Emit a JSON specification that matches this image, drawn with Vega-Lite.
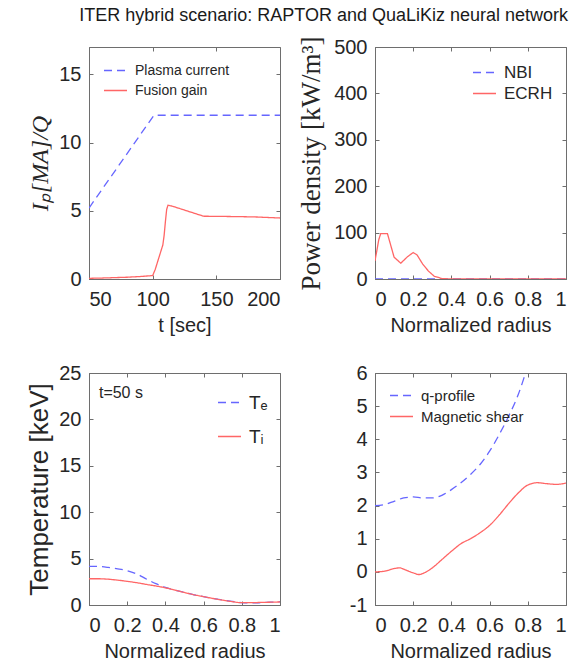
{
  "$schema": "https://vega.github.io/schema/vega-lite/v6.json",
  "padding": {"left": 26, "top": 7, "right": 5, "bottom": 5},
  "title": {"text": "ITER hybrid scenario: RAPTOR and QuaLiKiz neural network", "font": "Liberation Sans", "fontSize": 18, "fontWeight": "normal", "color": "#1a1a1a", "anchor": "middle", "offset": 10, "dx": 27},
  "datasets": {
    "current": [
      {"t": 50, "v": 5.2, "series": "Plasma current"},
      {"t": 101, "v": 12, "series": "Plasma current"},
      {"t": 200, "v": 12, "series": "Plasma current"},
      {"t": 50, "v": 0.05, "series": "Fusion gain"},
      {"t": 60, "v": 0.07, "series": "Fusion gain"},
      {"t": 70, "v": 0.1, "series": "Fusion gain"},
      {"t": 80, "v": 0.13, "series": "Fusion gain"},
      {"t": 90, "v": 0.18, "series": "Fusion gain"},
      {"t": 100, "v": 0.25, "series": "Fusion gain"},
      {"t": 102, "v": 0.7, "series": "Fusion gain"},
      {"t": 104, "v": 1.3, "series": "Fusion gain"},
      {"t": 106, "v": 1.9, "series": "Fusion gain"},
      {"t": 108, "v": 2.5, "series": "Fusion gain"},
      {"t": 109, "v": 3.2, "series": "Fusion gain"},
      {"t": 110, "v": 4.2, "series": "Fusion gain"},
      {"t": 111, "v": 5.1, "series": "Fusion gain"},
      {"t": 112, "v": 5.4, "series": "Fusion gain"},
      {"t": 115, "v": 5.35, "series": "Fusion gain"},
      {"t": 120, "v": 5.2, "series": "Fusion gain"},
      {"t": 130, "v": 4.9, "series": "Fusion gain"},
      {"t": 140, "v": 4.6, "series": "Fusion gain"},
      {"t": 160, "v": 4.58, "series": "Fusion gain"},
      {"t": 180, "v": 4.55, "series": "Fusion gain"},
      {"t": 200, "v": 4.47, "series": "Fusion gain"}
    ],
    "power": [
      {"r": 0, "p": 0, "series": "NBI"},
      {"r": 0.5, "p": 0, "series": "NBI"},
      {"r": 1, "p": 0, "series": "NBI"},
      {"r": 0, "p": 39, "series": "ECRH"},
      {"r": 0.02, "p": 85, "series": "ECRH"},
      {"r": 0.03, "p": 98, "series": "ECRH"},
      {"r": 0.065, "p": 98, "series": "ECRH"},
      {"r": 0.1, "p": 47, "series": "ECRH"},
      {"r": 0.135, "p": 34, "series": "ECRH"},
      {"r": 0.17, "p": 48, "series": "ECRH"},
      {"r": 0.2, "p": 57, "series": "ECRH"},
      {"r": 0.22, "p": 52, "series": "ECRH"},
      {"r": 0.25, "p": 32, "series": "ECRH"},
      {"r": 0.28, "p": 17, "series": "ECRH"},
      {"r": 0.31, "p": 6, "series": "ECRH"},
      {"r": 0.35, "p": 1, "series": "ECRH"},
      {"r": 0.4, "p": 0, "series": "ECRH"},
      {"r": 0.7, "p": 0, "series": "ECRH"},
      {"r": 1, "p": 0, "series": "ECRH"}
    ],
    "temp": [
      {"r": 0, "T": 4.17, "series": "Tₑ"},
      {"r": 0.05, "T": 4.15, "series": "Tₑ"},
      {"r": 0.1, "T": 4.05, "series": "Tₑ"},
      {"r": 0.15, "T": 3.9, "series": "Tₑ"},
      {"r": 0.2, "T": 3.7, "series": "Tₑ"},
      {"r": 0.25, "T": 3.35, "series": "Tₑ"},
      {"r": 0.3, "T": 2.8, "series": "Tₑ"},
      {"r": 0.35, "T": 2.3, "series": "Tₑ"},
      {"r": 0.4, "T": 1.9, "series": "Tₑ"},
      {"r": 0.45, "T": 1.6, "series": "Tₑ"},
      {"r": 0.5, "T": 1.35, "series": "Tₑ"},
      {"r": 0.55, "T": 1.1, "series": "Tₑ"},
      {"r": 0.6, "T": 0.9, "series": "Tₑ"},
      {"r": 0.65, "T": 0.7, "series": "Tₑ"},
      {"r": 0.7, "T": 0.55, "series": "Tₑ"},
      {"r": 0.75, "T": 0.38, "series": "Tₑ"},
      {"r": 0.8, "T": 0.25, "series": "Tₑ"},
      {"r": 0.85, "T": 0.22, "series": "Tₑ"},
      {"r": 0.9, "T": 0.25, "series": "Tₑ"},
      {"r": 0.95, "T": 0.3, "series": "Tₑ"},
      {"r": 1, "T": 0.35, "series": "Tₑ"},
      {"r": 0, "T": 2.83, "series": "Tᵢ"},
      {"r": 0.05, "T": 2.83, "series": "Tᵢ"},
      {"r": 0.1, "T": 2.78, "series": "Tᵢ"},
      {"r": 0.15, "T": 2.68, "series": "Tᵢ"},
      {"r": 0.2, "T": 2.55, "series": "Tᵢ"},
      {"r": 0.25, "T": 2.4, "series": "Tᵢ"},
      {"r": 0.3, "T": 2.22, "series": "Tᵢ"},
      {"r": 0.35, "T": 2.05, "series": "Tᵢ"},
      {"r": 0.4, "T": 1.85, "series": "Tᵢ"},
      {"r": 0.45, "T": 1.6, "series": "Tᵢ"},
      {"r": 0.5, "T": 1.35, "series": "Tᵢ"},
      {"r": 0.55, "T": 1.1, "series": "Tᵢ"},
      {"r": 0.6, "T": 0.9, "series": "Tᵢ"},
      {"r": 0.65, "T": 0.7, "series": "Tᵢ"},
      {"r": 0.7, "T": 0.52, "series": "Tᵢ"},
      {"r": 0.75, "T": 0.36, "series": "Tᵢ"},
      {"r": 0.8, "T": 0.25, "series": "Tᵢ"},
      {"r": 0.85, "T": 0.25, "series": "Tᵢ"},
      {"r": 0.9, "T": 0.28, "series": "Tᵢ"},
      {"r": 0.95, "T": 0.3, "series": "Tᵢ"},
      {"r": 1, "T": 0.33, "series": "Tᵢ"}
    ],
    "qprof": [
      {"r": 0, "q": 2.0, "series": "q-profile"},
      {"r": 0.05, "q": 2.03, "series": "q-profile"},
      {"r": 0.1, "q": 2.13, "series": "q-profile"},
      {"r": 0.15, "q": 2.23, "series": "q-profile"},
      {"r": 0.2, "q": 2.26, "series": "q-profile"},
      {"r": 0.25, "q": 2.23, "series": "q-profile"},
      {"r": 0.3, "q": 2.23, "series": "q-profile"},
      {"r": 0.35, "q": 2.31, "series": "q-profile"},
      {"r": 0.4, "q": 2.48, "series": "q-profile"},
      {"r": 0.45, "q": 2.69, "series": "q-profile"},
      {"r": 0.5, "q": 2.94, "series": "q-profile"},
      {"r": 0.55, "q": 3.24, "series": "q-profile"},
      {"r": 0.6, "q": 3.64, "series": "q-profile"},
      {"r": 0.65, "q": 4.14, "series": "q-profile"},
      {"r": 0.7, "q": 4.7, "series": "q-profile"},
      {"r": 0.75, "q": 5.35, "series": "q-profile"},
      {"r": 0.8, "q": 6.2, "series": "q-profile"},
      {"r": 0.85, "q": 7.0, "series": "q-profile"},
      {"r": 0.9, "q": 7.9, "series": "q-profile"},
      {"r": 0.95, "q": 8.9, "series": "q-profile"},
      {"r": 1, "q": 10.0, "series": "q-profile"},
      {"r": 0, "q": 0.0, "series": "Magnetic shear"},
      {"r": 0.05, "q": 0.02, "series": "Magnetic shear"},
      {"r": 0.1, "q": 0.1, "series": "Magnetic shear"},
      {"r": 0.13, "q": 0.12, "series": "Magnetic shear"},
      {"r": 0.15, "q": 0.08, "series": "Magnetic shear"},
      {"r": 0.2, "q": -0.03, "series": "Magnetic shear"},
      {"r": 0.23, "q": -0.08, "series": "Magnetic shear"},
      {"r": 0.25, "q": -0.05, "series": "Magnetic shear"},
      {"r": 0.3, "q": 0.12, "series": "Magnetic shear"},
      {"r": 0.35, "q": 0.37, "series": "Magnetic shear"},
      {"r": 0.4, "q": 0.62, "series": "Magnetic shear"},
      {"r": 0.45, "q": 0.85, "series": "Magnetic shear"},
      {"r": 0.5, "q": 1.0, "series": "Magnetic shear"},
      {"r": 0.55, "q": 1.18, "series": "Magnetic shear"},
      {"r": 0.6, "q": 1.4, "series": "Magnetic shear"},
      {"r": 0.65, "q": 1.71, "series": "Magnetic shear"},
      {"r": 0.7, "q": 2.06, "series": "Magnetic shear"},
      {"r": 0.75, "q": 2.38, "series": "Magnetic shear"},
      {"r": 0.8, "q": 2.62, "series": "Magnetic shear"},
      {"r": 0.85, "q": 2.69, "series": "Magnetic shear"},
      {"r": 0.9, "q": 2.66, "series": "Magnetic shear"},
      {"r": 0.95, "q": 2.64, "series": "Magnetic shear"},
      {"r": 1, "q": 2.68, "series": "Magnetic shear"}
    ]
  },
  "columns": 2,
  "concat": [
    {
      "width": 191, "height": 232,
      "data": {"name": "current"},
      "layer": [
        {
          "mark": {"type": "line", "strokeWidth": 1.3, "clip": true},
          "encoding": {
            "x": {"field": "t", "type": "quantitative", "scale": {"domain": [50, 200], "nice": false}, "axis": {"values": [50, 100, 150, 200], "title": "t [sec]"}},
            "y": {"field": "v", "type": "quantitative", "scale": {"domain": [0, 17], "nice": false}, "axis": {"values": [0, 5, 10, 15], "title": "Iₚ[MA]/Q", "titleFont": "Liberation Serif", "titleFontStyle": "italic", "titleFontSize": 24}},
            "color": {"field": "series", "type": "nominal", "scale": {"domain": ["Plasma current", "Fusion gain"], "range": ["#6666ff", "#ff6666"]}, "legend": {"legendX": 14, "legendY": 11, "labelFontSize": 14}},
            "strokeDash": {"field": "series", "type": "nominal", "scale": {"domain": ["Plasma current", "Fusion gain"], "range": [[8, 5], [1, 0]]}, "legend": {"legendX": 14, "legendY": 11, "labelFontSize": 14}}
          }
        },
        {
          "mark": {"type": "line", "opacity": 0},
          "encoding": {
            "x": {"field": "t", "type": "quantitative", "axis": {"orient": "top", "values": [50, 100, 150, 200], "labels": false, "domain": false, "title": null}},
            "y": {"field": "v", "type": "quantitative", "axis": {"orient": "right", "values": [0, 5, 10, 15], "labels": false, "domain": false, "title": null}}
          }
        }
      ],
      "resolve": {"axis": {"x": "independent", "y": "independent"}}
    },
    {
      "width": 191, "height": 232,
      "data": {"name": "power"},
      "layer": [
        {
          "mark": {"type": "line", "strokeWidth": 1.3, "clip": true},
          "encoding": {
            "x": {"field": "r", "type": "quantitative", "scale": {"domain": [0, 1], "nice": false}, "axis": {"values": [0, 0.2, 0.4, 0.6, 0.8, 1], "format": "~g", "title": "Normalized radius"}},
            "y": {"field": "p", "type": "quantitative", "scale": {"domain": [0, 500], "nice": false}, "axis": {"values": [0, 100, 200, 300, 400, 500], "title": "Power density [kW/m³]", "titleFont": "Liberation Serif", "titleFontSize": 27, "titlePadding": 8}},
            "color": {"field": "series", "type": "nominal", "scale": {"domain": ["NBI", "ECRH"], "range": ["#6666ff", "#ff6666"]}, "legend": {"legendX": 97, "legendY": 13, "labelFontSize": 17}},
            "strokeDash": {"field": "series", "type": "nominal", "scale": {"domain": ["NBI", "ECRH"], "range": [[8, 5], [1, 0]]}, "legend": {"legendX": 97, "legendY": 13, "labelFontSize": 17}}
          }
        },
        {
          "mark": {"type": "line", "opacity": 0},
          "encoding": {
            "x": {"field": "r", "type": "quantitative", "axis": {"orient": "top", "values": [0, 0.2, 0.4, 0.6, 0.8, 1], "labels": false, "domain": false, "title": null}},
            "y": {"field": "p", "type": "quantitative", "axis": {"orient": "right", "values": [0, 100, 200, 300, 400, 500], "labels": false, "domain": false, "title": null}}
          }
        }
      ],
      "resolve": {"axis": {"x": "independent", "y": "independent"}}
    },
    {
      "width": 191, "height": 232,
      "data": {"name": "temp"},
      "layer": [
        {
          "mark": {"type": "line", "strokeWidth": 1.3, "clip": true, "interpolate": "monotone"},
          "encoding": {
            "x": {"field": "r", "type": "quantitative", "scale": {"domain": [0, 1], "nice": false}, "axis": {"values": [0, 0.2, 0.4, 0.6, 0.8, 1], "format": "~g", "title": "Normalized radius"}},
            "y": {"field": "T", "type": "quantitative", "scale": {"domain": [0, 25], "nice": false}, "axis": {"values": [0, 5, 10, 15, 20, 25], "title": "Temperature [keV]", "titleFontSize": 26}},
            "color": {"field": "series", "type": "nominal", "scale": {"domain": ["Tₑ", "Tᵢ"], "range": ["#6666ff", "#ff6666"]}, "legend": {"legendX": 128, "legendY": 17, "labelFontSize": 19, "rowPadding": 11}},
            "strokeDash": {"field": "series", "type": "nominal", "scale": {"domain": ["Tₑ", "Tᵢ"], "range": [[8, 5], [1, 0]]}, "legend": {"legendX": 128, "legendY": 17, "labelFontSize": 19, "rowPadding": 11}}
          }
        },
        {
          "mark": {"type": "line", "opacity": 0},
          "encoding": {
            "x": {"field": "r", "type": "quantitative", "axis": {"orient": "top", "values": [0, 0.2, 0.4, 0.6, 0.8, 1], "labels": false, "domain": false, "title": null}},
            "y": {"field": "T", "type": "quantitative", "axis": {"orient": "right", "values": [0, 5, 10, 15, 20, 25], "labels": false, "domain": false, "title": null}}
          }
        },
        {
          "data": {"values": [{"label": "t=50 s"}]},
          "mark": {"type": "text", "align": "left", "baseline": "middle", "font": "Liberation Sans", "fontSize": 16, "color": "#262626"},
          "encoding": {
            "x": {"datum": 0.052, "type": "quantitative", "axis": null},
            "y": {"datum": 22.8, "type": "quantitative", "axis": null},
            "text": {"field": "label"}
          }
        }
      ],
      "resolve": {"axis": {"x": "independent", "y": "independent"}}
    },
    {
      "width": 191, "height": 232,
      "data": {"name": "qprof"},
      "layer": [
        {
          "mark": {"type": "line", "strokeWidth": 1.3, "clip": true, "interpolate": "monotone"},
          "encoding": {
            "x": {"field": "r", "type": "quantitative", "scale": {"domain": [0, 1], "nice": false}, "axis": {"values": [0, 0.2, 0.4, 0.6, 0.8, 1], "format": "~g", "title": "Normalized radius"}},
            "y": {"field": "q", "type": "quantitative", "scale": {"domain": [-1, 6], "nice": false}, "axis": {"values": [-1, 0, 1, 2, 3, 4, 5, 6], "labelExpr": "'' + datum.value", "title": null}},
            "color": {"field": "series", "type": "nominal", "scale": {"domain": ["q-profile", "Magnetic shear"], "range": ["#6666ff", "#ff6666"]}, "legend": {"legendX": 14, "legendY": 10, "labelFontSize": 15}},
            "strokeDash": {"field": "series", "type": "nominal", "scale": {"domain": ["q-profile", "Magnetic shear"], "range": [[8, 5], [1, 0]]}, "legend": {"legendX": 14, "legendY": 10, "labelFontSize": 15}}
          }
        },
        {
          "mark": {"type": "line", "opacity": 0},
          "encoding": {
            "x": {"field": "r", "type": "quantitative", "axis": {"orient": "top", "values": [0, 0.2, 0.4, 0.6, 0.8, 1], "labels": false, "domain": false, "title": null}},
            "y": {"field": "q", "type": "quantitative", "axis": {"orient": "right", "values": [-1, 0, 1, 2, 3, 4, 5, 6], "labels": false, "domain": false, "title": null}}
          }
        }
      ],
      "resolve": {"axis": {"x": "independent", "y": "independent"}}
    }
  ],
  "spacing": {"row": 94, "column": 95},
  "bounds": "flush",
  "resolve": {"scale": {"color": "independent", "strokeDash": "independent"}, "legend": {"color": "independent", "strokeDash": "independent"}},
  "config": {
    "font": "Liberation Sans",
    "view": {"stroke": "#6e6e6e", "strokeWidth": 1},
    "axis": {
      "grid": false,
      "labelFont": "Liberation Sans", "labelFontSize": 20, "labelColor": "#262626", "labelPadding": 12,
      "titleFont": "Liberation Sans", "titleFontSize": 20, "titleColor": "#262626", "titleFontWeight": "normal", "titlePadding": 6,
      "domainColor": "#6e6e6e", "tickColor": "#6e6e6e", "tickSize": -4, "tickWidth": 1
    },
    "axisX": {"labelPadding": 14},
    "legend": {
      "orient": "none", "title": null, "padding": 0, "symbolType": "stroke", "symbolSize": 529, "symbolStrokeWidth": 1.3,
      "labelFont": "Liberation Sans", "labelColor": "#262626", "labelOffset": 7, "rowPadding": 0
    }
  }
}
